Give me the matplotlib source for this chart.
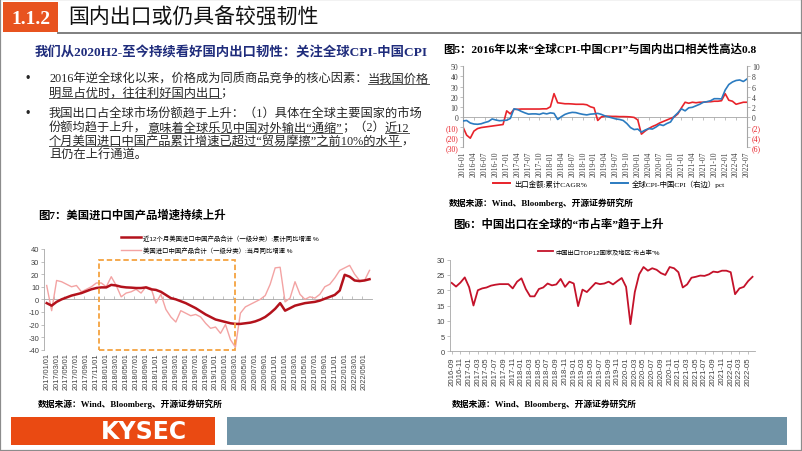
import matplotlib
matplotlib.use("Agg")
import matplotlib.pyplot as plt
import pandas as pd
from matplotlib.lines import Line2D
from matplotlib.patches import Rectangle

W, H = 802, 452
SERIF = ["Liberation Serif", "Noto Sans CJK SC"]
SANS = ["Liberation Sans", "Noto Sans CJK SC"]
plt.rcParams["font.family"] = SANS
plt.rcParams["axes.unicode_minus"] = False

# ---- data ----
# Fig 5: monthly 2016-01 .. 2022-07
fig5_months = pd.date_range("2016-01", "2022-07", freq="MS").strftime("%Y-%m").tolist()
export_cagr = [  # left axis, %
    -10, -18, -21, -14, -11.5, -10.5, -10, -9.5, -9, -8.5, -8, -7.5,
    6, 3, 7.5, 7.5, 7.8, 7.8, 7.8, 7.8, 7.8, 7.8, 8, 8,
    10, 23, 14, 13.5, 13, 13, 12.8, 12.5, 12.5, 12.5, 12, 10,
    9, -3.5, 0, 0.7, 0.7, 0.5, 0.5, 0.3, 0.3, 0.2, 0, -0.5,
    -3, -17, -14, -11.5, -9.5, -8, -6, -4.5, -3, -1.5, 0, 3,
    9, 14.5, 13.5, 14.5, 14, 14.5, 14.5, 15, 15, 15.5, 15.5, 16,
    23, 16.5, 15.5, 12.5, 13.5, 14.5, 14.5,
]
cpi_gap = [  # right axis, pct
    -0.8, -0.7, -1.2, -1.4, -1.45, -1.35, -1.1, -0.9, -0.4, -0.6, -0.75, -0.7,
    -0.65, -0.3, 1.6, 1.45, 1.1, 0.8, 0.55, 0.6, 0.6, 0.5, 0.75, 0.6,
    0.8, 0.7, -0.5, 0.05, 0.5, 0.75, 0.9, 0.85, 0.65, 0.5, 0.4, 0.55,
    0.6, 0.7, 0.5, 0.2, 0, -0.2, -0.4, -0.5, -0.7, -1.3, -2.1, -2.5,
    -2.4, -3.0, -2.6, -2.3, -2.4, -2.0, -1.5, -1.7, -1.3, -1.0, 0.1, 0.8,
    1.6, 1.2, 1.8, 1.9, 2.2, 2.5, 2.9, 3.0, 3.2, 3.6, 3.6, 3.55,
    5.3, 6.4, 6.9, 7.2, 7.3, 7.0, 7.5,
]
fig5_left_ticks = [-30, -20, -10, 0, 10, 20, 30, 40, 50]
fig5_right_ticks = [-6, -4, -2, 0, 2, 4, 6, 8, 10]

# Fig 7: monthly 2017-01 .. 2022-06
fig7_months = pd.date_range("2017-01", "2022-06", freq="MS").strftime("%Y/%m/%d").tolist()
us_cum = [
    -3, -5, -2, 0, 1.5, 3, 4, 5, 6.5, 8, 9, 9.5,
    9.5, 11.5, 11, 10, 9.5, 9.3, 9, 9, 9.5, 8, 7.5, 6,
    3.5, 1, 0, -1.5, -3, -5, -7, -9.5, -12, -14, -16, -17,
    -18, -19, -19.5, -19.5, -19, -18.5, -17.5, -16, -14, -11, -7.5, -3,
    -9, -7, -5, -4, -3, -2.5, -2, -1, 0.5, 2, 3.5, 7,
    19.5, 18, 15, 14.5, 15, 16,
]
us_month = [
    11, -9, 15, 14, 12, 10, 11, 6, 8, 10, 13, 13,
    10, 18, 11, 2, 5, 6, 8, 5, 10, 9, -3, 4,
    -8, -14, -18, -9, -11, -13, -12, -14, -19, -23, -22, -27,
    -20, -32, -38, -11, -6, -4, -2, 0, 3, 12, 25, 25.5,
    -2, 1, 14, 4, 0, 2, 1, 4, 10, 12, 17, 23,
    25, 27, 20, 15, 15, 23,
]
trade_war_window = (10.6, 37.9, -40, 31.5)  # months from 2017-01, value range

# Fig 6: monthly 2016-09 .. 2022-06
fig6_months = pd.date_range("2016-09", "2022-06", freq="MS").strftime("%Y-%m").tolist()
market_share = [
    22.4, 21.2, 22.5, 24.2, 21.0, 15.0, 20.0, 20.6, 20.9, 21.5,
    21.8, 22.0, 22.0, 22.0, 20.6, 22.8, 23.9, 20.4, 18.0, 18.0,
    20.4, 20.9, 22.2, 21.6, 21.9, 23.7, 21.1, 22.8, 22.2, 14.8,
    20.2, 19.4, 20.9, 22.4, 22.0, 22.2, 22.8, 21.9, 23.0, 24.0,
    21.1, 8.9, 19.4, 25.2, 27.6, 26.4, 27.2, 26.7, 25.6, 25.0,
    27.6, 27.2, 25.9, 20.9, 21.9, 24.1, 24.4, 24.8, 24.7, 25.2,
    26.1, 25.9, 26.4, 26.4, 25.9, 18.7, 20.6, 21.1, 23.0, 24.4,
]

RED5, BLUE5 = "#E8232A", "#2B7BC0"
DARKRED, PINK, ORANGE = "#B3121C", "#F3A3A3", "#F4A340"
CRIMSON = "#C4122A"
AXGRAY, TXT = "#A6A6A6", "#404040"
NEG = "#E8232A"


def box(x0, y0, x1, y1):
    return [x0 / W, 1 - y1 / H, (x1 - x0) / W, (y1 - y0) / H]


def fx(x):
    return x / W


def fy(y):
    return 1 - y / H


fig = plt.figure(figsize=(W / 100, H / 100), dpi=100)
renderer = fig.canvas.get_renderer()

# ---- slide chrome ----
fig.add_artist(Rectangle((0, 0), 1, 1, transform=fig.transFigure, fill=False,
                         edgecolor="#8C8C8C", lw=1.6))
fig.add_artist(Rectangle((fx(3), fy(33)), fx(58) - fx(3), fy(3) - fy(33),
                         transform=fig.transFigure, color="#E8531F", lw=0))
fig.add_artist(Line2D([fx(58), fx(802)], [fy(33.5), fy(33.5)], color="#7F7F7F", lw=1.4))
fig.text(fx(31), fy(19), "1.1.2", color="white", fontsize=14, weight="bold",
         family=SERIF, ha="center", va="center")
fig.text(fx(68), fy(19), "国内出口或仍具备较强韧性", fontsize=15, family=SERIF,
         ha="left", va="center", color="#111111")

fig.add_artist(Rectangle((fx(11), fy(446)), fx(215) - fx(11), fy(418) - fy(446),
                         transform=fig.transFigure, color="#EA4A12", lw=0))
fig.add_artist(Rectangle((fx(227), fy(446)), fx(787) - fx(227), fy(418) - fy(446),
                         transform=fig.transFigure, color="#6F93A7", lw=0))
fig.text(fx(144), fy(432), "KYSEC", color="white", fontsize=17, weight="bold",
         family=["DejaVu Sans"], ha="center", va="center")

# ---- left text block ----
fig.text(fx(35), fy(57), "我们从2020H2-至今持续看好国内出口韧性：关注全球CPI-中国CPI",
         fontsize=9.6, weight="bold", color="#1F2C7C", family=SERIF, va="baseline")


def rich_line(x, y, parts, size=8.8, color="#262626"):
    for s, under in parts:
        t = fig.text(fx(x), fy(y), s, fontsize=size, color=color, family=SERIF,
                     va="baseline")
        bb = t.get_window_extent(renderer)
        if under:
            fig.add_artist(Line2D([bb.x0 / W, bb.x1 / W], [fy(y + 2.2)] * 2,
                                  color="#555555", lw=0.7))
        x += bb.width


for by in (79, 114):
    fig.text(fx(25), fy(by), "•", fontsize=9, color="#262626", va="center")
rich_line(49, 83, [("2016年逆全球化以来，价格成为同质商品竞争的核心因素：", False),
                   ("当我国价格", True)])
rich_line(49, 96.5, [("明显占优时，往往利好国内出口", True), ("；", False)])
rich_line(49, 118, [("我国出口占全球市场份额趋于上升：（1）具体在全球主要国家的市场", False)])
rich_line(49, 131.5, [("份额均趋于上升，", False), ("意味着全球乐见中国对外输出“通缩”", True),
                      ("；（2）", False), ("近12", True)])
rich_line(49, 145, [("个月美国进口中国产品累计增速已超过“贸易摩擦”之前10%的水平", True),
                    ("，", False)])
rich_line(49, 158, [("且仍在上行通道。", False)])

# ---- figure titles and sources ----
fig.text(fx(443), fy(49), "图5：2016年以来“全球CPI-中国CPI”与国内出口相关性高达0.8",
         fontsize=8.2, weight="bold", family=SERIF, va="center")
fig.text(fx(453), fy(224), "图6：中国出口在全球的“市占率”趋于上升",
         fontsize=8.2, weight="bold", family=SERIF, va="center")
fig.text(fx(38), fy(215), "图7：美国进口中国产品增速持续上升",
         fontsize=8.2, weight="bold", family=SERIF, va="center")
src = "数据来源：Wind、Bloomberg、开源证券研究所"
for sx, sy in ((449, 203), (38, 404), (452, 404)):
    fig.text(fx(sx), fy(sy), src, fontsize=6.3, weight="bold", family=SERIF, va="center")


def paren(v):
    return f"({abs(v)})" if v < 0 else str(v)


def zero_axis(ax, frac, ticks):
    """Category axis line drawn through value 0, with tick marks but no labels."""
    z = ax.secondary_xaxis(frac)
    z.set_xticks(ticks, labels=[""] * len(ticks))
    z.tick_params(which="both", length=2, width=0.5, color=AXGRAY,
                  labelbottom=False, labeltop=False)
    for s in ("top", "bottom"):
        z.spines[s].set_color(AXGRAY)
        z.spines[s].set_linewidth(0.6)
    return z


# ---- Fig 5 ----
ax5 = fig.add_axes(box(463, 67.3, 747, 148.3))
x5 = range(len(fig5_months))
ax5.plot(x5, export_cagr, color=RED5, lw=1.2)
ax5.set_xlim(0, len(fig5_months) - 1)
ax5.set_ylim(-30, 50)
ax5r = ax5.twinx()
ax5r.plot(x5, cpi_gap, color=BLUE5, lw=1.2)
ax5r.set_ylim(-6, 10)
ax5.set_yticks(fig5_left_ticks, [paren(v) for v in fig5_left_ticks])
ax5r.set_yticks(fig5_right_ticks, [paren(v) for v in fig5_right_ticks])
for a, ticks in ((ax5, fig5_left_ticks), (ax5r, fig5_right_ticks)):
    for lab, v in zip(a.get_yticklabels(), ticks):
        lab.set_color(NEG if v < 0 else TXT)
        lab.set_family(SERIF)
        lab.set_fontsize(5.6)
    a.tick_params(axis="y", length=2, width=0.5, color=AXGRAY, pad=1.5)
    for s in ("top", "bottom"):
        a.spines[s].set_visible(False)
ax5.spines["left"].set_color(AXGRAY)
ax5r.spines["right"].set_color(AXGRAY)
ax5r.spines["left"].set_visible(False)
ax5.spines["right"].set_visible(False)
xt5 = list(range(0, len(fig5_months), 3))
ax5.set_xticks(xt5, [fig5_months[i] for i in xt5], rotation=90, fontsize=5.5,
               family=SERIF, color=TXT)
ax5.tick_params(axis="x", length=0, pad=2.5)
zero_axis(ax5, 30 / 80, xt5)

h5 = [Line2D([], [], color=RED5, lw=1.4), Line2D([], [], color=BLUE5, lw=1.4)]
fig.legend(h5, ["出口金额:累计CAGR%", "全球CPI-中国CPI（右边）pct"], loc="center",
           bbox_to_anchor=(fx(609), fy(184)), ncol=2, frameon=False,
           prop=dict(family=SERIF, size=5.3), handlelength=2.4,
           columnspacing=3.2, handletextpad=0.5, borderpad=0)

# ---- Fig 7 ----
ax7 = fig.add_axes(box(44.2, 250, 372, 350.7))
x7 = range(len(fig7_months))
ax7.plot(x7, us_month, color=PINK, lw=1.0)
ax7.plot(x7, us_cum, color=DARKRED, lw=1.8)
ax7.set_xlim(-0.5, len(fig7_months) - 0.5)
ax7.set_ylim(-40, 40)
x0, x1, y0, y1 = trade_war_window
ax7.add_patch(Rectangle((x0, y0), x1 - x0, y1 - y0, fill=False, edgecolor=ORANGE,
                        lw=1.3, ls=(0, (3, 1.6)), clip_on=False, zorder=5))
ax7.set_yticks(range(-40, 41, 10))
ax7.tick_params(axis="y", labelsize=5.4, labelcolor=TXT, length=2, width=0.5,
                color=AXGRAY, pad=1.5)
xt7 = list(range(0, len(fig7_months), 2))
ax7.set_xticks(xt7, [fig7_months[i] for i in xt7], rotation=90, fontsize=5.3, color=TXT)
ax7.tick_params(axis="x", length=0, pad=2)
for s in ("top", "bottom", "right"):
    ax7.spines[s].set_visible(False)
ax7.spines["left"].set_color(AXGRAY)
ax7.spines["left"].set_linewidth(0.6)
zero_axis(ax7, 0.5, [i - 0.5 for i in xt7])

h7 = [Line2D([], [], color=DARKRED, lw=1.8), Line2D([], [], color=PINK, lw=1.0)]
fig.legend(h7, ["近12个月美国进口中国产品合计（一级分类）:累计同比增速 %",
                "美国进口中国产品合计（一级分类）:当月同比增速 %"],
           loc="center left", bbox_to_anchor=(fx(121), fy(244.5)), frameon=False,
           prop=dict(family=SANS, size=4.6), handlelength=3.2, handletextpad=0.3,
           labelspacing=0.9, borderpad=0, borderaxespad=0)

# ---- Fig 6 ----
ax6 = fig.add_axes(box(449.5, 260.7, 754.7, 352.3))
ax6.plot(range(len(fig6_months)), market_share, color=CRIMSON, lw=1.3)
ax6.set_xlim(-0.5, len(fig6_months) - 0.5)
ax6.set_ylim(0, 30)
ax6.set_yticks(range(0, 31, 5))
ax6.tick_params(axis="y", labelsize=5.4, labelcolor=TXT, length=2, width=0.5,
                color=AXGRAY, pad=1.5)
xt6 = list(range(0, len(fig6_months), 2))
ax6.set_xticks(xt6, [fig6_months[i] for i in xt6], rotation=90, fontsize=5.6, color=TXT)
ax6.tick_params(axis="x", length=2, width=0.5, color=AXGRAY, pad=1.5)
for s in ("top", "right"):
    ax6.spines[s].set_visible(False)
for s in ("left", "bottom"):
    ax6.spines[s].set_color(AXGRAY)
    ax6.spines[s].set_linewidth(0.6)
fig.legend([Line2D([], [], color=CRIMSON, lw=1.3)], ["中国出口TOP12国家及地区“市占率”%"],
           loc="center", bbox_to_anchor=(fx(599), fy(252.3)), frameon=False,
           prop=dict(family=SANS, size=4.5), handlelength=2.3, handletextpad=0.4,
           borderpad=0)

fig.savefig("out.png", dpi=100)
